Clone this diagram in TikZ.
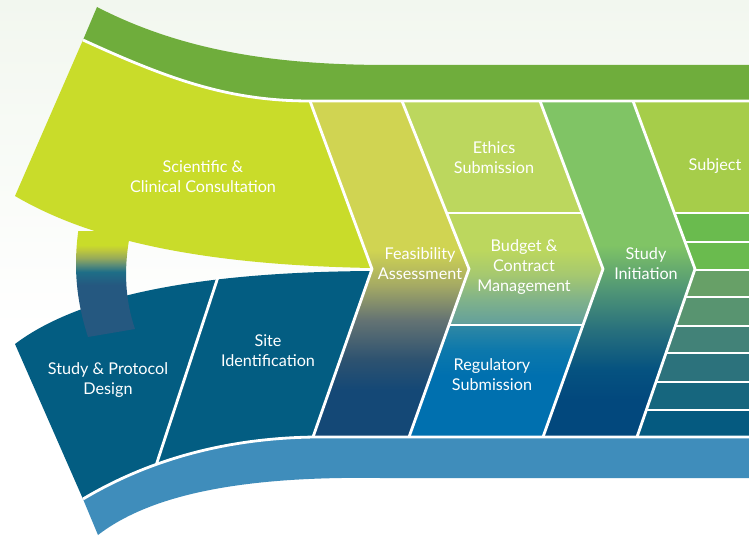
\documentclass[tikz,border=0pt]{standalone}
\usepackage{fontspec}
\setmainfont{Lato}

% palette
\definecolor{bgtint}{RGB}{242,247,239}
\definecolor{bandgreen}{RGB}{111,173,60}
\definecolor{bandblue}{RGB}{63,141,187}
\definecolor{consult}{RGB}{201,220,42}
\definecolor{design}{RGB}{3,93,130}
\definecolor{subject}{RGB}{166,205,74}
\definecolor{barA}{RGB}{106,187,78}
\definecolor{barB}{RGB}{106,187,78}
\definecolor{barC}{RGB}{103,160,103}
\definecolor{barD}{RGB}{88,148,112}
\definecolor{barE}{RGB}{66,130,120}
\definecolor{barF}{RGB}{44,114,124}
\definecolor{barG}{RGB}{22,102,126}
\definecolor{barH}{RGB}{5,90,128}
% feasibility column
\definecolor{feasA}{RGB}{208,212,82}
\definecolor{feasB}{RGB}{165,170,100}
\definecolor{feasC}{RGB}{100,115,115}
\definecolor{feasD}{RGB}{45,82,112}
\definecolor{feasE}{RGB}{20,72,118}
% ethics / budget / regulatory column
\definecolor{midA}{RGB}{188,215,94}
\definecolor{midB}{RGB}{165,200,112}
\definecolor{midC}{RGB}{128,178,138}
\definecolor{midD}{RGB}{100,160,155}
\definecolor{midE}{RGB}{45,135,165}
\definecolor{midF}{RGB}{12,120,172}
\definecolor{midG}{RGB}{0,112,175}
% study initiation column
\definecolor{initA}{RGB}{128,196,101}
\definecolor{initB}{RGB}{80,150,118}
\definecolor{initC}{RGB}{40,112,125}
\definecolor{initD}{RGB}{5,82,128}
\definecolor{initE}{RGB}{2,72,125}
% link between consultation and design
\definecolor{linkA}{RGB}{190,200,60}
\definecolor{linkB}{RGB}{150,170,90}
\definecolor{linkC}{RGB}{90,140,120}
\definecolor{linkD}{RGB}{30,110,135}
\definecolor{linkE}{RGB}{37,88,128}

\pgfdeclareverticalshading{feasshade}{100bp}{color(0bp)=(feasE); color(32bp)=(feasE);
  color(36.5bp)=(feasD); color(42.4bp)=(feasC); color(47.6bp)=(feasB);
  color(52.8bp)=(feasA); color(100bp)=(feasA)}
\pgfdeclareverticalshading{midshade}{100bp}{color(0bp)=(midG); color(34.2bp)=(midG);
  color(37.9bp)=(midF); color(41.5bp)=(midE); color(42bp)=(midD);
  color(45.4bp)=(midC); color(49.1bp)=(midB); color(52.8bp)=(midA); color(100bp)=(midA)}
\pgfdeclareverticalshading{initshade}{100bp}{color(0bp)=(initE); color(30.5bp)=(initE);
  color(35bp)=(initD); color(40.9bp)=(initC); color(46.9bp)=(initB);
  color(53.6bp)=(initA); color(100bp)=(initA)}
\pgfdeclareverticalshading{linkshade}{100bp}{color(0bp)=(linkE); color(49.8bp)=(linkE);
  color(56bp)=(linkD); color(59.3bp)=(linkC); color(62.6bp)=(linkB);
  color(66.4bp)=(linkA); color(68.8bp)=(consult); color(100bp)=(consult)}

\begin{document}
\begin{tikzpicture}[x=1pt,y=-1pt,
  lbl/.style={text=white, align=center, inner sep=0pt,
    font=\fontsize{16.2}{20}\selectfont},
  gap/.style={draw=white, line width=2.8pt},
]
\useasboundingbox (0,0) rectangle (749,537);
\fill[white] (0,0) rectangle (749,537);
\shade[top color=bgtint, bottom color=white] (0,0) rectangle (749,330);

% upper green band
\fill[bandgreen] (97,7) .. controls (190,55) and (290,65) .. (390,65) -- (749,65)
  -- (749,101) -- (310,101) .. controls (230,101) and (170,80) .. (83,40) -- cycle;

% lower blue band
\fill[bandblue] (83,499) .. controls (140,465) and (216,438) .. (316,437) -- (749,437)
  -- (749,478) -- (380,478) .. controls (240,476) and (150,495) .. (98,535) -- cycle;

% design and site identification block
\fill[design] (15,344) .. controls (80,295) and (200,272) .. (372,271) -- (316,437)
  .. controls (216,438) and (140,465) .. (83,499) -- cycle;

% link strip
\begin{scope}
  \clip (79,226) .. controls (73,265) and (76,300) .. (88,337) -- (135,329)
    .. controls (125,300) and (124,270) .. (129,240) -- cycle;
  \shade[shading=linkshade] (70,232) rectangle (140,337);
\end{scope}

% consultation block
\fill[consult] (83,40) .. controls (170,80) and (230,101) .. (310,101) -- (372,268)
  .. controls (200,265) and (90,240) .. (15,196) -- cycle;

% feasibility chevron
\begin{scope}
  \clip (310,101) -- (372,269) -- (313,437) -- (409,437) -- (469,269) -- (402,101) -- cycle;
  \shade[shading=feasshade] (300,101) rectangle (480,437);
\end{scope}

% ethics / budget / regulatory chevron
\begin{scope}
  \clip (402,101) -- (469,269) -- (409,437) -- (543,437) -- (603,269) -- (540,101) -- cycle;
  \shade[shading=midshade] (395,101) rectangle (610,437);
  \draw[gap] (395,213) -- (610,213) (395,325) -- (610,325);
\end{scope}

% study initiation chevron
\begin{scope}
  \clip (540,101) -- (603,269) -- (543,437) -- (637,437) -- (695,269) -- (633,101) -- cycle;
  \shade[shading=initshade] (535,101) rectangle (700,437);
\end{scope}

% subject column and its bars
\begin{scope}
  \clip (633,101) -- (695,269) -- (637,437) -- (749,437) -- (749,101) -- cycle;
  \fill[subject] (625,101) rectangle (749,213);
  \fill[barA] (625,213) rectangle (749,242);
  \fill[barB] (625,242) rectangle (749,270);
  \fill[barC] (625,270) rectangle (749,297);
  \fill[barD] (625,297) rectangle (749,326);
  \fill[barE] (625,326) rectangle (749,353);
  \fill[barF] (625,353) rectangle (749,382);
  \fill[barG] (625,382) rectangle (749,410);
  \fill[barH] (625,410) rectangle (749,437);
  \foreach \yy in {213,242,270,297,326,353,382,410}
    \draw[gap] (625,\yy) -- (749,\yy);
\end{scope}

% white separators
\draw[gap] (83,40) .. controls (170,80) and (230,101) .. (310,101) -- (749,101);
\draw[gap] (83,499) .. controls (140,465) and (216,438) .. (316,437) -- (749,437);
\draw[gap] (218,277) -- (156.5,464);
\draw[gap] (310,101) -- (372,269) -- (313,437);
\draw[gap] (402,101) -- (469,269) -- (409,437);
\draw[gap] (540,101) -- (603,269) -- (543,437);
\draw[gap] (633,101) -- (695,269) -- (637,437);

% labels
\node[lbl] (consultation) at (203,176.5) {Scientific \&\\Clinical Consultation};
\node[lbl] (design) at (108,380.5) {Study \& Protocol\\Design};
\node[lbl] (site) at (268,350.5) {Site\\Identification};
\node[lbl] (feasibility) at (420,263.5) {Feasibility\\Assessment};
\node[lbl] (ethics) at (494,157.5) {Ethics\\Submission};
\node[lbl] (budget) at (524,267.5) {Budget \&\\Contract\\Management};
\node[lbl] (regulatory) at (492,374.5) {Regulatory\\Submission};
\node[lbl] (initiation) at (646,263.5) {Study\\Initiation};
\node[lbl] (subject) at (715,166) {Subject};
\end{tikzpicture}
\end{document}
